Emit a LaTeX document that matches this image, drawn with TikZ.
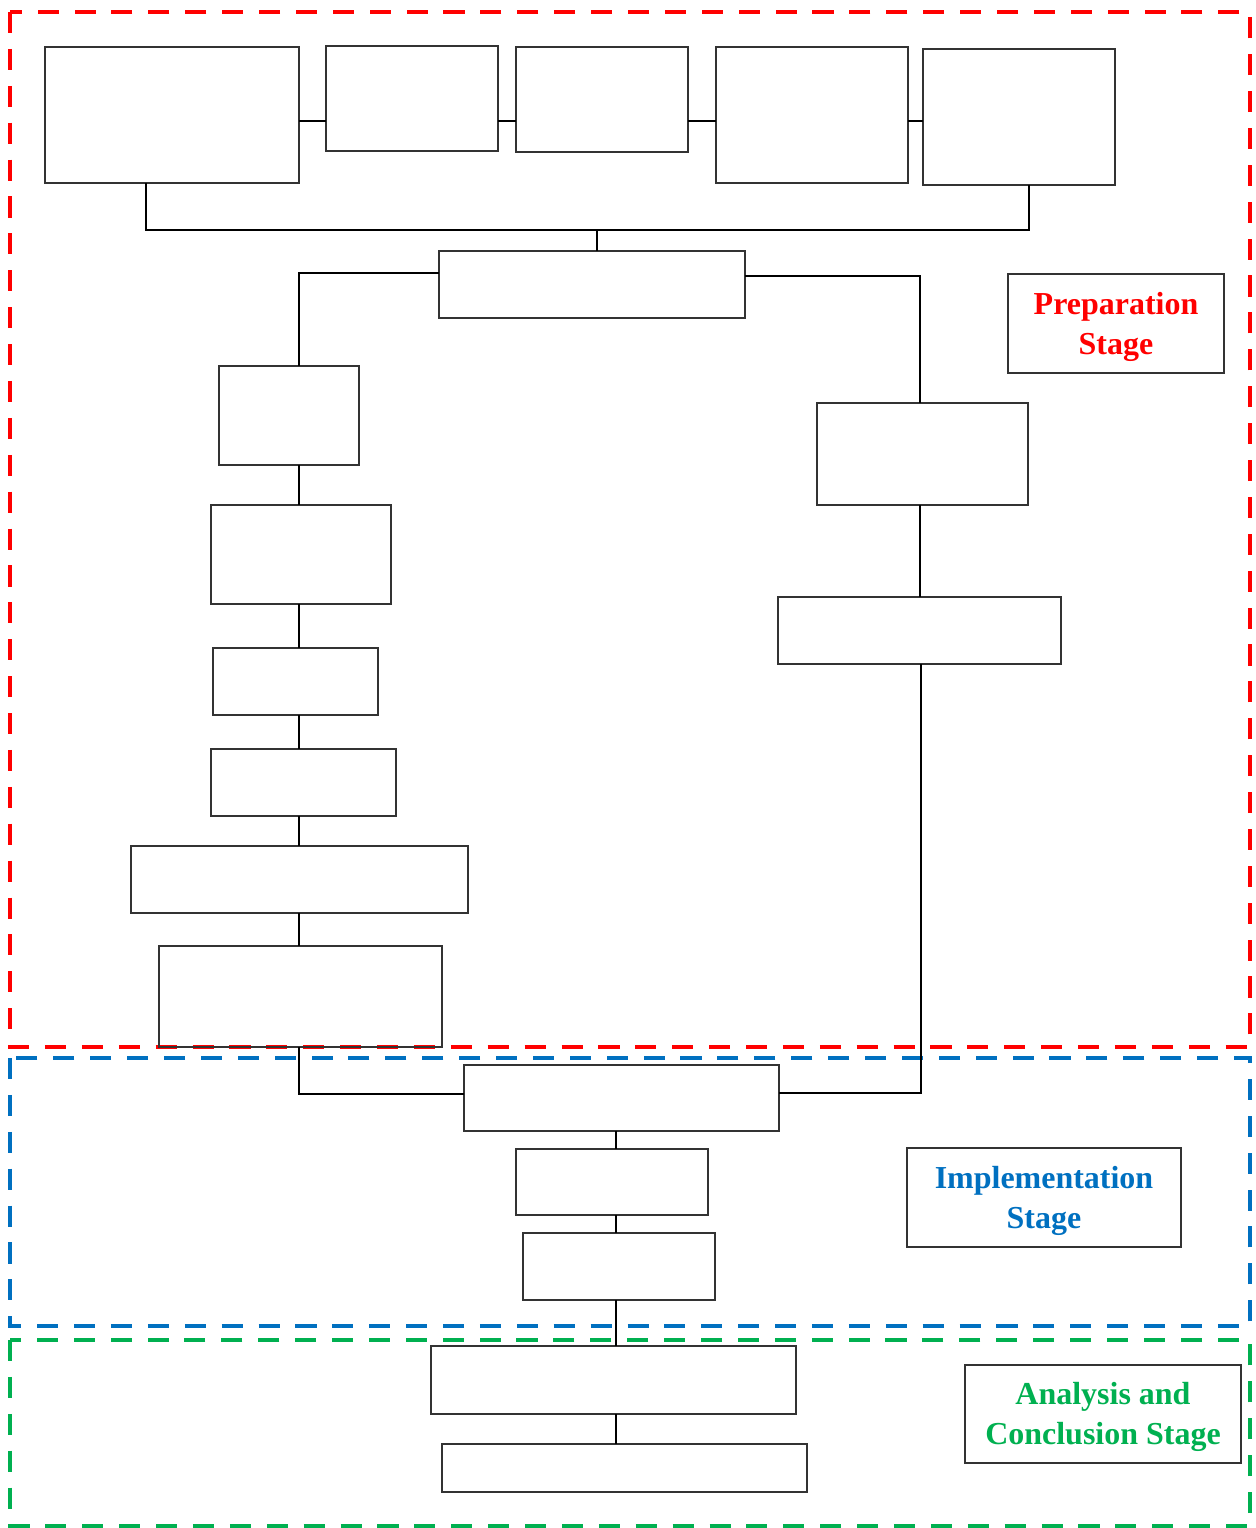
\documentclass[tikz,border=0pt]{standalone}
\usepackage{fontspec}
\setmainfont{Liberation Serif}
\usepackage{tikz}
\usetikzlibrary{
  calc,%
  positioning
}
\tikzset{>=latex}
\tikzset{font=\normalsize}
\definecolor{prepred}{rgb}{1, 0, 0}
\definecolor{implblue}{RGB}{0, 112, 192}
\definecolor{anagreen}{RGB}{0, 176, 80}
\tikzset{
  blank/.style 2 args={draw=black!80, line width=0.8pt, inner sep=0pt, outer sep=0pt,
    minimum width=#1cm, minimum height=#2cm},
  stagebox/.style 2 args={blank={#1}{#2}, align=center,
    font=\fontsize{18.2}{22.8}\selectfont\bfseries},
  frame/.style={line width=2.5pt, dash pattern=on 12pt off 9pt},
  link/.style={line width=1pt, black}
}
% first line gets a taller strut so the text sits a little lower in its box
\newcommand{\stagename}[2]{\textcolor{#1}{#2}}
\newcommand{\lowstrut}{\rule{0pt}{16pt}}

\begin{document}
\begin{tikzpicture}[x=0.02cm, y=-0.02cm]
  \useasboundingbox (0,0) rectangle (1255,1528);
  % stage frames
  \draw[frame, prepred] (10,12) rectangle (1250,1047);
  \draw[frame, implblue] (10,1058) rectangle (1250,1326);
  \draw[frame, anagreen] (10,1340) rectangle (1250,1526);

  % top row
  \node[blank={5.08}{2.72}] (b1) at (172,115) {};
  \node[blank={3.44}{2.10}] (b2) at (412,98.5) {};
  \node[blank={3.44}{2.10}] (b3) at (602,99.5) {};
  \node[blank={3.84}{2.72}] (b4) at (812,115) {};
  \node[blank={3.84}{2.72}] (b5) at (1019,117) {};
  \node[blank={6.12}{1.34}] (c) at (592,284.5) {};

  % left branch
  \node[blank={2.80}{1.98}] (l1) at (289,415.5) {};
  \node[blank={3.60}{1.98}] (l2) at (301,554.5) {};
  \node[blank={3.30}{1.34}] (l3) at (295.5,681.5) {};
  \node[blank={3.70}{1.34}] (l4) at (303.5,782.5) {};
  \node[blank={6.74}{1.34}] (l5) at (299.5,879.5) {};
  \node[blank={5.66}{2.02}] (l6) at (300.5,996.5) {};

  % right branch
  \node[blank={4.22}{2.04}] (r1) at (922.5,454) {};
  \node[blank={5.66}{1.34}] (r2) at (919.5,630.5) {};

  % implementation and analysis
  \node[blank={6.30}{1.32}] (m1) at (621.5,1098) {};
  \node[blank={3.84}{1.32}] (m2) at (612,1182) {};
  \node[blank={3.84}{1.34}] (m3) at (619,1266.5) {};
  \node[blank={7.30}{1.36}] (a1) at (613.5,1380) {};
  \node[blank={7.30}{0.96}] (a2) at (624.5,1468) {};

  % stage labels
  \node[stagebox={4.32}{1.98}] (prep) at (1116,323.5) {\lowstrut\stagename{prepred}{Preparation}\\\stagename{prepred}{Stage}};
  \node[stagebox={5.48}{1.98}] (impl) at (1044,1197.5) {\lowstrut\stagename{implblue}{Implementation}\\\stagename{implblue}{Stage}};
  \node[stagebox={5.52}{1.96}] (anal) at (1103,1414) {\lowstrut\stagename{anagreen}{Analysis and}\\\stagename{anagreen}{Conclusion Stage}};

  % connectors
  \foreach \a/\b in {b1/b2, b2/b3, b3/b4, b4/b5}
    \draw[link] (\a.east |- 0,121) -- (\b.west |- 0,121);
  \coordinate (join) at (597,230);
  \draw[link] (b1.south -| 146,0) |- (join) -| (b5.south -| 1029,0);
  \draw[link] (join) -- (c.north -| join);
  \draw[link] (c.west |- 0,273) -| (l1.north -| 299,0);
  \draw[link] (c.east |- 0,276) -| (r1.north -| 920,0);
  \foreach \a/\b in {l1/l2, l2/l3, l3/l4, l4/l5, l5/l6}
    \draw[link] (\a.south -| 299,0) -- (\b.north -| 299,0);
  \draw[link] (r1.south -| 920,0) -- (r2.north -| 920,0);
  \draw[link] (l6.south -| 299,0) |- (m1.west |- 0,1094);
  \draw[link] (r2.south -| 921,0) |- (m1.east |- 0,1093);
  \foreach \a/\b in {m1/m2, m2/m3, m3/a1, a1/a2}
    \draw[link] (\a.south -| 616,0) -- (\b.north -| 616,0);
\end{tikzpicture}
\end{document}
